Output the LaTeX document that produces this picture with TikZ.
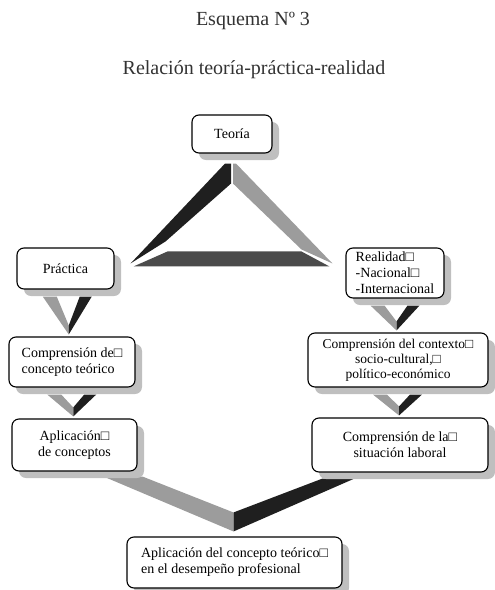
\documentclass[tikz,border=0pt]{standalone}
\usepackage{fontspec}
\setmainfont{Liberation Serif}
\usetikzlibrary{calc,shadows,backgrounds}

\definecolor{armdark}{HTML}{1F1F1F}
\definecolor{armgray}{HTML}{9C9C9C}
\definecolor{bardark}{HTML}{4B4B4B}

% V shaped link from box #1 down to box #2
\newcommand{\vlink}[2]{%
  \coordinate (m) at ($(#1.south)!0.5!(#2.north)$);
  \coordinate (t) at ($(m |- #2.north)+(0,-2)$);
  \coordinate (a) at ($(m |- #1.south)+(0,7)$);
  \fill[armgray] ($(a)+(-26,0)$) -- ($(a)+(-12,0)$) -- ($(t)+(0,-9)$) -- (t) -- cycle;
  \fill[armdark] ($(a)+(11,0)$) -- ($(a)+(23,0)$) -- (t) -- ($(t)+(0,-9)$) -- cycle;
}

\begin{document}
\begin{tikzpicture}[x=1pt,y=-1pt,
    box/.style={draw, line width=1.1pt, rounded corners=7pt, fill=white,
      inner sep=2pt, font=\fontsize{14}{16}\selectfont,
      drop shadow={shadow xshift=7pt, shadow yshift=-7pt, fill=black!25, opacity=1}},
    title/.style={font=\fontsize{20}{24}\selectfont, text=black!80}]
    \useasboundingbox (0,0) rectangle (495,590);

    % Titles
    \node[title] (t1) at (253,21) {Esquema Nº 3};
    \node[title] (t2) at (254,70) {Relación teoría-práctica-realidad};

    % Boxes
    \node[box, minimum width=80, minimum height=38] (teo) at (232,134) {Teoría};
    \node[box, minimum width=97, minimum height=41] (prac) at (65.5,268.5) {Práctica};
    \node[box, minimum width=126, minimum height=50, align=left] (comp) at (72,362)
        {Comprensión de□\\concepto teórico};
    \node[box, minimum width=125, minimum height=52, align=center] (apli) at (74.5,445)
        {Aplicación□\\de conceptos};
    \node[box, minimum width=98, minimum height=50, align=left] (real) at (395,273)
        {Realidad□\\-Nacional□\\-Internacional};
    \node[box, minimum width=180, minimum height=54, align=center,
        font=\fontsize{13.5}{15}\selectfont] (ctx) at (398,360)
        {Comprensión del contexto□\\socio-cultural,□\\político-económico};
    \node[box, minimum width=176, minimum height=54, align=center] (sit) at (400,445)
        {Comprensión de la□\\situación laboral};
    \node[box, minimum width=215, minimum height=51, align=left] (fin) at (234.5,562.5)
        {Aplicación del concepto teórico□\\en el desempeño profesional};

    \begin{scope}[on background layer]
        % Triangle teoria - practica - realidad
        \coordinate (A) at ($(teo.south)+(0,10)$);
        \coordinate (L) at ($(prac.north east)+(16,16)$);
        \coordinate (R) at ($(real.north west)+(-13,16)$);
        \fill[armdark] ($(A)+(-7,0)$) -- ($(A)+(-1,0)$) -- ($(A)+(-1,20)$)
            -- ($(L)+(35,-22)$) -- (L) -- cycle;
        \fill[armgray] ($(A)+(1,0)$) -- ($(A)+(4,0)$) -- (R)
            -- ($(R)+(-31,-14)$) -- ($(A)+(1,20)$) -- cycle;
        \fill[bardark] ($(L)+(37,-12)$) -- ($(R)+(-31,-12)$)
            -- ($(R)+(-3,3)$) -- ($(L)+(3,3)$) -- cycle;

        % Columns
        \vlink{prac}{comp}
        \vlink{comp}{apli}
        \vlink{real}{ctx}
        \vlink{ctx}{sit}

        % Both columns into the last box
        \coordinate (T) at ($(fin.north)+(-1,-5)$);
        \fill[armgray] ($(apli.south east)+(-34,5)$) -- ($(apli.south east)+(5,5)$)
            -- ($(T)+(0,-19)$) -- (T) -- cycle;
        \fill[armdark] ($(T)+(0,-19)$) -- ($(sit.south west)+(11,6)$)
            -- ($(sit.south west)+(43,6)$) -- (T) -- cycle;
    \end{scope}
\end{tikzpicture}
\end{document}
